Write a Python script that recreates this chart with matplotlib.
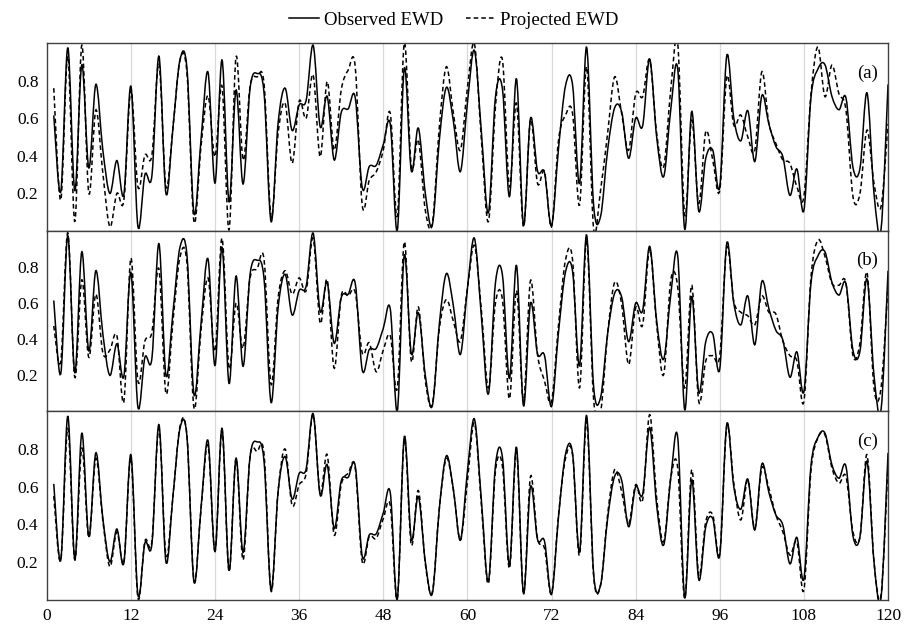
import numpy as np
import matplotlib
matplotlib.use("Agg")
import matplotlib.pyplot as plt
from matplotlib.path import Path
from matplotlib.patches import PathPatch
from matplotlib.lines import Line2D

plt.rcParams['font.family'] = ['Liberation Serif', 'DejaVu Serif']

# months 1..120
months = np.arange(1, 121)

observed = [
    0.615, 0.21, 0.975, 0.215, 0.885, 0.335, 0.78, 0.43, 0.20, 0.375,
    0.195, 0.77, 0.025, 0.30, 0.295, 0.93, 0.20, 0.55, 0.91, 0.865,
    0.094, 0.485, 0.845, 0.255, 0.91, 0.155, 0.75, 0.25, 0.76, 0.838,
    0.733, 0.05, 0.575, 0.76, 0.535, 0.67, 0.695, 0.988, 0.555, 0.716,
    0.378, 0.63, 0.65, 0.71, 0.23, 0.343, 0.35, 0.46, 0.568, 0.003,
    0.866, 0.32, 0.548, 0.20, 0.032, 0.485, 0.764, 0.585, 0.316, 0.68,
    0.96, 0.525, 0.097, 0.712, 0.756, 0.183, 0.81, 0.032, 0.60, 0.32,
    0.31, 0.028, 0.44, 0.774, 0.778, 0.254, 0.978, 0.14, 0.078, 0.43,
    0.655, 0.635, 0.387, 0.60, 0.56, 0.915, 0.50, 0.29, 0.643, 0.862,
    0.01, 0.636, 0.106, 0.387, 0.43, 0.236, 0.933, 0.60, 0.48, 0.64,
    0.37, 0.72, 0.57, 0.45, 0.395, 0.19, 0.33, 0.11, 0.708, 0.862,
    0.885, 0.716, 0.645, 0.708, 0.338, 0.334, 0.735, 0.20, 0.008, 0.78,
]

projected_a = [
    0.76, 0.165, 0.93, 0.05, 0.99, 0.20, 0.644, 0.307, 0.023, 0.20,
    0.165, 0.75, 0.236, 0.404, 0.404, 0.89, 0.236, 0.55, 0.91, 0.84,
    0.05, 0.45, 0.72, 0.395, 0.77, 0.005, 0.927, 0.378, 0.77, 0.82,
    0.78, 0.076, 0.52, 0.68, 0.36, 0.69, 0.60, 0.83, 0.395, 0.795,
    0.43, 0.75, 0.856, 0.874, 0.138, 0.27, 0.315, 0.43, 0.626, 0.08,
    1.0, 0.342, 0.484, 0.11, 0.04, 0.555, 0.874, 0.626, 0.43, 0.76,
    0.995, 0.484, 0.05, 0.66, 0.91, 0.236, 0.68, 0.023, 0.59, 0.254,
    0.316, 0.023, 0.484, 0.617, 0.626, 0.138, 0.874, 0.014, 0.218, 0.52,
    0.82, 0.626, 0.43, 0.73, 0.715, 0.91, 0.52, 0.342, 0.75, 1.0,
    0.085, 0.59, 0.147, 0.528, 0.378, 0.218, 0.82, 0.564, 0.617, 0.50,
    0.43, 0.847, 0.573, 0.466, 0.378, 0.36, 0.236, 0.183, 0.723, 0.98,
    0.715, 0.883, 0.73, 0.644, 0.183, 0.20, 0.537, 0.254, 0.13, 0.57,
]

projected_b = [
    0.474, 0.28, 0.99, 0.19, 0.73, 0.30, 0.65, 0.325, 0.34, 0.42,
    0.056, 0.85, 0.17, 0.39, 0.44, 0.79, 0.10, 0.50, 0.855, 0.82,
    0.02, 0.45, 0.74, 0.335, 0.96, 0.24, 0.60, 0.35, 0.74, 0.79,
    0.84, 0.15, 0.63, 0.78, 0.65, 0.74, 0.67, 0.96, 0.49, 0.73,
    0.24, 0.64, 0.64, 0.66, 0.325, 0.38, 0.22, 0.34, 0.42, 0.13,
    0.94, 0.28, 0.58, 0.17, 0.04, 0.46, 0.62, 0.50, 0.39, 0.68,
    0.92, 0.56, 0.13, 0.60, 0.62, 0.07, 0.67, 0.056, 0.725, 0.316,
    0.17, 0.056, 0.48, 0.84, 0.84, 0.13, 0.95, 0.07, 0.0, 0.43,
    0.715, 0.595, 0.26, 0.575, 0.48, 0.90, 0.48, 0.205, 0.725, 0.69,
    0.13, 0.70, 0.056, 0.28, 0.31, 0.31, 0.91, 0.61, 0.55, 0.53,
    0.48, 0.64, 0.55, 0.54, 0.39, 0.31, 0.28, 0.056, 0.74, 0.95,
    0.86, 0.71, 0.70, 0.71, 0.31, 0.38, 0.77, 0.13, 0.13, 0.70,
]

projected_c = [
    0.55, 0.21, 0.91, 0.21, 0.805, 0.33, 0.75, 0.42, 0.175, 0.36,
    0.20, 0.75, 0.01, 0.31, 0.31, 0.91, 0.236, 0.55, 0.92, 0.87,
    0.10, 0.48, 0.82, 0.26, 0.90, 0.15, 0.75, 0.21, 0.76, 0.787,
    0.77, 0.044, 0.574, 0.80, 0.50, 0.61, 0.67, 0.983, 0.565, 0.77,
    0.343, 0.61, 0.672, 0.70, 0.20, 0.335, 0.325, 0.43, 0.50, 0.005,
    0.85, 0.29, 0.58, 0.19, 0.04, 0.485, 0.75, 0.585, 0.316, 0.628,
    0.939, 0.503, 0.085, 0.681, 0.708, 0.165, 0.788, 0.032, 0.654, 0.325,
    0.272, 0.032, 0.45, 0.752, 0.77, 0.236, 0.948, 0.13, 0.076, 0.45,
    0.69, 0.574, 0.405, 0.61, 0.53, 0.983, 0.539, 0.307, 0.645, 0.70,
    0.005, 0.69, 0.13, 0.414, 0.45, 0.245, 0.92, 0.618, 0.423, 0.636,
    0.379, 0.70, 0.592, 0.45, 0.36, 0.236, 0.307, 0.05, 0.681, 0.859,
    0.876, 0.70, 0.618, 0.654, 0.36, 0.334, 0.77, 0.20, 0.023, 0.72,
]

panel_labels = ['(a)', '(b)', '(c)']
x_ticks = list(range(0, 121, 12))
y_ticks = [0.2, 0.4, 0.6, 0.8]


# smoothed line like a spreadsheet "smooth line": cubic bezier through the points
def smooth_path(xs, ys):
    pts = np.column_stack([xs, ys]).astype(float)
    n = len(pts)
    verts = [pts[0]]
    codes = [Path.MOVETO]
    for k in range(n - 1):
        p0 = pts[k - 1] if k > 0 else pts[k]
        p1 = pts[k]
        p2 = pts[k + 1]
        p3 = pts[k + 2] if k + 2 < n else pts[k + 1]
        verts += [p1 + (p2 - p0) / 6.0, p2 - (p3 - p1) / 6.0, p2]
        codes += [Path.CURVE4] * 3
    return Path(verts, codes)


fig = plt.figure(figsize=(9.08, 6.34), dpi=100)

# panel boxes in figure fractions [left, bottom, width, height]
left, width = 0.0515, 0.9265
boxes = [
    [left, 0.6356, width, 0.2965],
    [left, 0.3510, width, 0.2846],
    [left, 0.0544, width, 0.2966],
]

projections = [projected_a, projected_b, projected_c]
dash = (0, (3, 2))

for i in range(3):
    ax = fig.add_axes(boxes[i])
    for g in x_ticks[1:-1]:
        ax.axvline(g, color='#d9d9d9', lw=0.9, zorder=0)
    ax.add_patch(PathPatch(smooth_path(months, observed), fill=False,
                           edgecolor='black', lw=1.1))
    ax.add_patch(PathPatch(smooth_path(months, projections[i]), fill=False,
                           edgecolor='black', lw=1.1, linestyle=dash))
    ax.set_xlim(0, 120)
    ax.set_ylim(0.0, 1.0)
    ax.set_yticks(y_ticks)
    ax.set_yticklabels(['0.2', '0.4', '0.6', '0.8'])
    ax.set_xticks(x_ticks)
    if i < 2:
        ax.set_xticklabels([])
    ax.tick_params(length=0, labelsize=12.5, pad=6)
    for s in ax.spines.values():
        s.set_color('#404040')
        s.set_linewidth(1.0)
    ax.text(0.988, 0.84, panel_labels[i], transform=ax.transAxes,
            ha='right', va='center', fontsize=13.5)

handles = [Line2D([], [], color='black', lw=1.1),
           Line2D([], [], color='black', lw=1.1, linestyle=dash)]
fig.legend(handles, ['Observed EWD', 'Projected EWD'], loc='upper center',
           bbox_to_anchor=(0.5, 1.008), ncol=2, frameon=False, fontsize=13.5,
           handlelength=1.6, handletextpad=0.25, columnspacing=1.2)

fig.savefig('out.png', dpi=100)
